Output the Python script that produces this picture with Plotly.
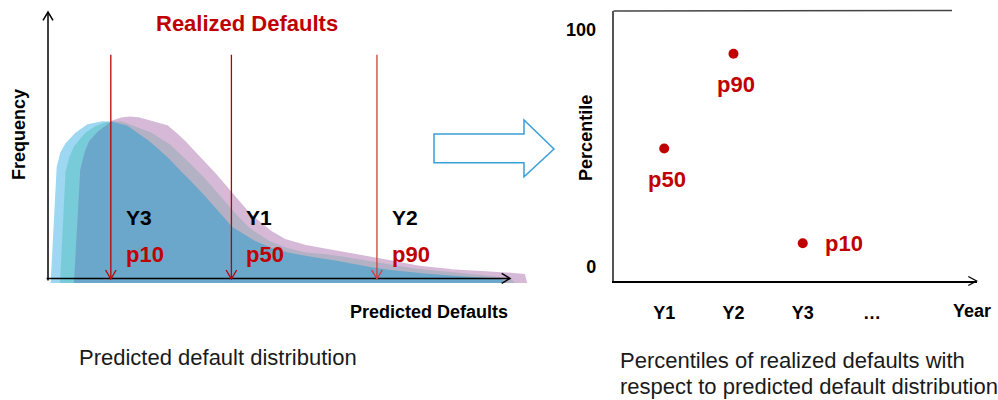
import numpy as np
import plotly.graph_objects as go

W, H = 998, 400
FONT = "Liberation Sans, Arial, sans-serif"
RED = "#c00000"

# ---------------- data ----------------
# Predicted default distributions (x: predicted defaults, y: frequency, 0-100 scales)
dist_a_x = [0.58, 1.67, 2.45, 3.53, 5.35, 8.23, 11.1, 13.5, 16.9, 19.8, 22.1, 25.8, 29.2,
            32.9, 36.6, 39.8, 43.7, 47.4, 50.9, 54.5, 61.7, 71.2, 79.0, 87.7, 97.8, 99.0]
dist_a_y = [-1.5, 40.1, 46.6, 50.3, 54.0, 57.8, 59.1, 59.1, 57.8, 54.0, 51.4, 45.8, 39.6,
            33.3, 25.8, 19.6, 15.2, 12.1, 10.2, 9.0, 7.1, 4.0, 2.4, 1.1, 0.4, -1.5]

dist_b_x = [2.60, 3.68, 4.26, 5.35, 7.51, 9.68, 12.19, 13.5, 15.6, 16.9, 21.2, 22.1, 25.8,
            29.2, 32.9, 36.6, 39.8, 43.7, 47.4, 50.9, 54.5, 61.7, 71.2, 79.0, 87.7, 93.5,
            100.0, 101.0]
dist_b_y = [-1.5, 39.1, 44.1, 49.1, 54.0, 56.8, 58.8, 59.1, 59.2, 58.4, 55.8, 55.1, 51.4,
            45.8, 39.6, 32.7, 25.8, 19.0, 14.6, 12.1, 10.2, 9.0, 6.1, 4.0, 2.6, 1.5,
            0.4, -1.5]

dist_c_x = [5.63, 6.77, 7.51, 8.59, 10.39, 12.19, 13.5, 15.2, 16.9, 19.0, 21.2, 22.1, 25.8,
            29.2, 32.9, 36.6, 39.8, 43.7, 47.4, 50.9, 54.5, 61.7, 71.2, 79.0, 87.7, 96.3,
            103.2, 103.6]
dist_c_y = [-1.5, 39.1, 45.3, 50.9, 54.7, 57.2, 59.1, 60.3, 60.9, 60.9, 59.9, 59.6, 57.7,
            52.7, 45.8, 39.0, 32.1, 24.6, 19.0, 15.2, 13.1, 10.9, 8.1, 5.2, 3.6, 2.7,
            2.1, -1.5]
dist_base = -1.5

# Realized defaults placed on the predicted distribution
realized_year = ["Y3", "Y1", "Y2"]
realized_value = [13.6, 39.7, 71.2]
realized_pct = ["p10", "p50", "p90"]
realized_color = ["#c00000", "#b80000", "#d63a3a"]

# Percentile of realized defaults per year
years = ["Y1", "Y2", "Y3"]
percentiles = [50, 90, 10]
year_ticks = ["Y1", "Y2", "Y3", "\u2026"]
pct_tick_vals = [0, 100]
pct_tick_text = ["0", "100"]


# ---------------- helpers ----------------
def pxx(px):
    return px / W


def pxy(py):
    return 1 - py / H


# left panel: origin (48, 279) px, 4.62 px per x unit, 2.67 px per y unit
L_OX, L_OY, L_SX, L_SY = 48, 279, 4.62, 2.67
L_DOM_X, L_DOM_Y = (30, 540), (5, 292)
# right panel: Y1 at 664.2 px, 69.27 px per year; 0% at 267 px, 2.37 px per point
R_OX, R_SX, R_OY, R_SY = 664.2, 69.27, 267, 2.37
R_DOM_X, R_DOM_Y = (613.5, 976.6), (11, 281)

fig = go.Figure()

# ---- distribution bands (opaque overlap colours) ----
grid = np.linspace(-1, 105, 4241)
ca = np.interp(grid, dist_a_x, dist_a_y, left=dist_base, right=dist_base)
cb = np.interp(grid, dist_b_x, dist_b_y, left=dist_base, right=dist_base)
cc = np.interp(grid, dist_c_x, dist_c_y, left=dist_base, right=dist_base)

bands = [
    (cc, "#d5b9d7"),                                  # purple alone
    (ca, "#9dd7f1"),                                  # light blue alone
    (np.minimum(ca, cb), "#78cbd8"),                  # light blue + teal
    (np.minimum(cb, cc), "#b3b1c4"),                  # teal + purple
    (np.minimum(np.minimum(ca, cb), cc), "#6aa7ca"),  # all three
]
for top, col in bands:
    fig.add_trace(go.Scatter(
        x=np.concatenate([grid, grid[::-1]]),
        y=np.concatenate([top, np.full_like(grid, dist_base)]),
        fill="toself", fillcolor=col, mode="lines", line=dict(width=0),
        hoverinfo="skip", xaxis="x", yaxis="y"))

# ---- left axes with open arrowheads ----
ax_dx, ax_dy = 5 / L_SX, 8.3 / L_SY
fig.add_trace(go.Scatter(
    x=[0, 0, None, -ax_dx, 0, ax_dx],
    y=[-0.6, 100, None, 100 - ax_dy, 100, 100 - ax_dy],
    mode="lines", line=dict(color="black", width=1.5), hoverinfo="skip",
    xaxis="x", yaxis="y"))
ax_hx, ax_hy = 8.3 / L_SX, 5 / L_SY
fig.add_trace(go.Scatter(
    x=[-0.3, 100, None, 100 - ax_hx, 100, 100 - ax_hx],
    y=[0.2, 0.2, None, 0.2 + ax_hy, 0.2, 0.2 - ax_hy],
    mode="lines", line=dict(color="black", width=1.5), hoverinfo="skip",
    xaxis="x", yaxis="y"))

# ---- realized default arrows ----
arrow_top = 84
hd_x, hd_y = 5.3 / L_SX, 9 / L_SY
for v, col in zip(realized_value, realized_color):
    fig.add_trace(go.Scatter(
        x=[v, v, None, v - hd_x, v, v + hd_x],
        y=[arrow_top, 0, None, hd_y, 0, hd_y],
        mode="lines", line=dict(color=col, width=1.3), hoverinfo="skip",
        xaxis="x", yaxis="y"))

annotations = []
for v, yr, pc in zip(realized_value, realized_year, realized_pct):
    annotations.append(dict(x=v, y=23.2, xref="x", yref="y", text=f"<b>{yr}</b>",
                            showarrow=False, xanchor="left", xshift=13,
                            font=dict(family=FONT, size=21, color="black")))
    annotations.append(dict(x=v, y=9.0, xref="x", yref="y", text=f"<b>{pc}</b>",
                            showarrow=False, xanchor="left", xshift=13,
                            font=dict(family=FONT, size=22, color=RED)))

# ---- right panel points ----
xpos = list(range(len(years)))
fig.add_trace(go.Scatter(
    x=xpos, y=percentiles, mode="markers",
    marker=dict(size=10, color=RED), cliponaxis=False, hoverinfo="skip",
    xaxis="x2", yaxis="y2"))
for xi, p in zip(xpos, percentiles):
    if p < 30:
        annotations.append(dict(x=xi, y=p, xref="x2", yref="y2", text=f"<b>p{p}</b>",
                                showarrow=False, xanchor="left", xshift=20,
                                font=dict(family=FONT, size=22, color=RED)))
    else:
        annotations.append(dict(x=xi, y=p, xref="x2", yref="y2", text=f"<b>p{p}</b>",
                                showarrow=False, xshift=3, yshift=-31,
                                font=dict(family=FONT, size=22, color=RED)))

# ---- text labels ----
def label(text, px, py, size, bold=True, color="black", angle=0, anchor="center"):
    annotations.append(dict(
        x=pxx(px), y=pxy(py), xref="paper", yref="paper",
        text=f"<b>{text}</b>" if bold else text, showarrow=False, textangle=angle,
        xanchor=anchor, yanchor="middle",
        font=dict(family=FONT, size=size, color=color)))


label("Realized Defaults", 246.7, 23, 22, color=RED)
label("Frequency", 19, 135, 18, angle=-90)
label("Predicted Defaults", 428.6, 312, 18)
label("Predicted default distribution", 77, 357, 22, bold=False, color="#1a1a1a",
      anchor="left")
label("Percentile", 586.6, 138.3, 18, angle=-90)
label("Year", 971.8, 311, 18)
label("Percentiles of realized defaults with", 618, 360, 22, bold=False,
      color="#1a1a1a", anchor="left")
label("respect to predicted default distribution", 618, 386.7, 22, bold=False,
      color="#1a1a1a", anchor="left")

# ---- shapes: frame top line, x-axis arrowhead, block arrow ----
shapes = [
    dict(type="line", xref="paper", yref="paper",
         x0=pxx(613.5), y0=pxy(11), x1=pxx(952), y1=pxy(10.5),
         line=dict(color="#444", width=1.5)),
    dict(type="path", xref="paper", yref="paper",
         path=f"M {pxx(968.3)},{pxy(276.5)} L {pxx(976.6)},{pxy(281)} "
              f"L {pxx(968.3)},{pxy(285.5)}",
         line=dict(color="black", width=1.3)),
    dict(type="path", xref="paper", yref="paper",
         path=(f"M {pxx(434)},{pxy(134)} L {pxx(524)},{pxy(134)} L {pxx(524)},{pxy(120)} "
               f"L {pxx(554)},{pxy(149)} L {pxx(524)},{pxy(176.7)} L {pxx(524)},{pxy(162.7)} "
               f"L {pxx(434)},{pxy(162.7)} Z"),
         line=dict(color="#3a9fd8", width=1.5), fillcolor="white"),
]

hidden = dict(showgrid=False, zeroline=False, showticklabels=False, showline=False,
              ticks="", fixedrange=True)

fig.update_layout(
    width=W, height=H, margin=dict(l=0, r=0, t=0, b=0),
    paper_bgcolor="white", plot_bgcolor="rgba(0,0,0,0)", showlegend=False,
    xaxis=dict(domain=[pxx(L_DOM_X[0]), pxx(L_DOM_X[1])],
               range=[(L_DOM_X[0] - L_OX) / L_SX, (L_DOM_X[1] - L_OX) / L_SX], **hidden),
    yaxis=dict(domain=[pxy(L_DOM_Y[1]), pxy(L_DOM_Y[0])],
               range=[(L_OY - L_DOM_Y[1]) / L_SY, (L_OY - L_DOM_Y[0]) / L_SY], **hidden),
    xaxis2=dict(domain=[pxx(R_DOM_X[0]), pxx(R_DOM_X[1])],
                range=[(R_DOM_X[0] - R_OX) / R_SX, (R_DOM_X[1] - R_OX) / R_SX],
                anchor="y2", showgrid=False, zeroline=False, showline=True,
                linecolor="black", linewidth=1.5, ticks="",
                tickvals=list(range(len(year_ticks))), ticktext=year_ticks,
                ticklabelstandoff=15,
                tickfont=dict(family=FONT, size=18, color="black", weight="bold"),
                fixedrange=True),
    yaxis2=dict(domain=[pxy(R_DOM_Y[1]), pxy(R_DOM_Y[0])],
                range=[(R_OY - R_DOM_Y[1]) / R_SY, (R_OY - R_DOM_Y[0]) / R_SY],
                anchor="x2", showgrid=False, zeroline=False, showline=True,
                linecolor="#555", linewidth=1.5, ticks="",
                tickvals=pct_tick_vals, ticktext=pct_tick_text, ticklabelstandoff=12,
                tickfont=dict(family=FONT, size=18, color="black", weight="bold"),
                fixedrange=True),
    annotations=annotations, shapes=shapes,
)

fig.write_html("out.html")
